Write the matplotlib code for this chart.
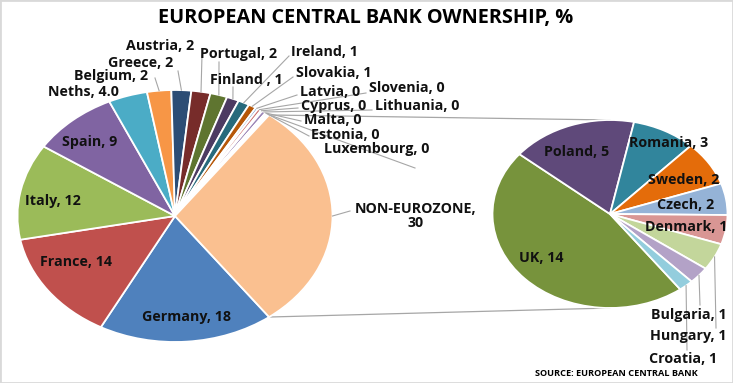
import numpy as np
import matplotlib.pyplot as plt
from matplotlib.patches import Rectangle

# ────────────────────────────────────────────────
# Data (ECB capital key, %)
# ────────────────────────────────────────────────
euro_names = ["Germany", "France", "Italy", "Spain", "Neths", "Belgium", "Greece",
              "Austria", "Portugal", "Finland", "Ireland", "Slovakia", "Latvia",
              "Slovenia", "Cyprus", "Lithuania", "Malta", "Estonia", "Luxembourg"]
euro_values = [17.99, 14.18, 12.31, 8.84, 4.00, 2.48, 2.03, 1.96, 1.74, 1.26, 1.16,
               0.77, 0.28, 0.35, 0.15, 0.41, 0.06, 0.19, 0.20]
euro_labels = ["Germany, 18", "France, 14", "Italy, 12", "Spain, 9", "Neths, 4.0",
               "Belgium, 2", "Greece, 2", "Austria, 2", "Portugal, 2", "Finland , 1",
               "Ireland, 1", "Slovakia, 1", "Latvia, 0", "Slovenia, 0", "Cyprus, 0",
               "Lithuania, 0", "Malta, 0", "Estonia, 0", "Luxembourg, 0"]

non_euro_names = ["UK", "Poland", "Romania", "Sweden", "Czech", "Denmark",
                  "Hungary", "Bulgaria", "Croatia"]
non_euro_values = [13.67, 5.12, 2.60, 2.27, 1.61, 1.49, 1.38, 0.86, 0.60]
non_euro_labels = ["UK, 14", "Poland, 5", "Romania, 3", "Sweden, 2", "Czech, 2",
                   "Denmark, 1", "Hungary, 1", "Bulgaria, 1", "Croatia, 1"]
other_label = "NON-EUROZONE,\n30"

euro_colors = ["#4F81BD", "#C0504D", "#9BBB59", "#8064A2", "#4BACC6", "#F79646",
               "#2C4D75", "#772C2A", "#5F7530", "#4D3B62", "#276A7C", "#B65708",
               "#729ACA", "#CD7371", "#AFC97A", "#9983B5", "#6FBDD1", "#F9AB6B",
               "#3A5E8C"]
other_color = "#FAC090"
non_euro_colors = ["#77933C", "#5F497A", "#31859C", "#E46C0A", "#95B3D7",
                   "#D99694", "#C3D69B", "#B3A2C7", "#93CDDD"]

# ────────────────────────────────────────────────
# Layout (pixel positions; image is stretched sideways by SX)
# ────────────────────────────────────────────────
W, H = 733, 383
SX = 1.25

# name -> (label x, label y, leader start or None)
label_pos = {
    "Germany": (186, 317, None), "France": (76, 262, None), "Italy": (53, 201, None),
    "Spain": (90, 142, None), "Neths": (83, 92, None),
    "Belgium": (111, 76, (155, 78)), "Greece": (141, 63, (178, 71)),
    "Austria": (160, 46, (202, 55)), "Portugal": (239, 54, (219, 62)),
    "Finland": (246, 80, (233, 87)), "Ireland": (324, 52, (289, 56)),
    "Slovakia": (334, 73, (293, 77)), "Latvia": (330, 92, (297, 95)),
    "Slovenia": (407, 88, (366, 93)), "Cyprus": (334, 106, (298, 108)),
    "Lithuania": (417, 106, (372, 110)), "Malta": (333, 120, (301, 121)),
    "Estonia": (345, 135, (309, 136)), "Luxembourg": (377, 149, (415, 168)),
    "UK": (541, 258, None), "Poland": (577, 152, None), "Romania": (669, 143, None),
    "Sweden": (684, 180, None), "Czech": (686, 205, None), "Denmark": (686, 227, None),
    "Hungary": (688, 336, (716, 328)), "Bulgaria": (689, 315, (700, 305)),
    "Croatia": (683, 359, (687, 350)),
}


def px(x, y):
    return x / SX, H - y


def rim(w):
    a = np.deg2rad((w.theta1 + w.theta2) / 2)
    return w.center[0] + w.r * np.cos(a), w.center[1] + w.r * np.sin(a)


FONT = "Open Sans"
TXT = "#111111"
LEAD = "#A6A6A6"
FS = 10.3

fig = plt.figure(figsize=(W / 100, H / 100), dpi=100)
ax = fig.add_axes([0, 0, 1, 1])

other = sum(non_euro_values)
main_vals = euro_values + [other]
start = -180 * other / sum(main_vals)
wp = dict(edgecolor="white", linewidth=1.3)

w1, _ = ax.pie(main_vals, colors=euro_colors + [other_color], center=px(175, 216),
               radius=126, startangle=start, counterclock=False, wedgeprops=wp)
w2, _ = ax.pie(non_euro_values, colors=non_euro_colors, center=px(610, 214),
               radius=94, startangle=start, counterclock=False, wedgeprops=wp)
ax.set_aspect("auto")
ax.set_xlim(0, W / SX)
ax.set_ylim(0, H)
ax.axis("off")

# connector lines between the "other" slice and the second pie
ow = w1[-1]
c2, r2 = w2[0].center, w2[0].r
for th, dy in [(ow.theta2, r2), (ow.theta1, -r2)]:
    a = np.deg2rad(th)
    x0 = ow.center[0] + ow.r * np.cos(a)
    y0 = ow.center[1] + ow.r * np.sin(a)
    ax.plot([x0, c2[0]], [y0, c2[1] + dy], color=LEAD, lw=0.9, zorder=0.5)

# labels + leaders
for wedges, names, labels in [(w1, euro_names, euro_labels),
                              (w2, non_euro_names, non_euro_labels)]:
    for w, name, lab in zip(wedges, names, labels):
        lx, ly, lead = label_pos[name]
        ax.text(*px(lx, ly), lab, ha="center", va="center", fontsize=FS,
                fontweight="bold", family=FONT, color=TXT, zorder=5)
        if lead is not None:
            ex, ey = rim(w)
            sx, sy = px(*lead)
            ax.plot([sx, ex], [sy, ey], color=LEAD, lw=0.8, zorder=3)

ax.text(*px(416, 216), other_label, ha="center", va="center", fontsize=FS,
        fontweight="bold", family=FONT, color=TXT, linespacing=1.05)
ex, ey = rim(ow)
ax.plot([ex, 350 / SX], [ey, H - 211], color=LEAD, lw=0.8)

ax.text(*px(366, 18), "EUROPEAN CENTRAL BANK OWNERSHIP, %", ha="center", va="center",
        fontsize=14.3, fontweight="bold", family=FONT, color="black")
ax.text(*px(616, 374), "SOURCE: EUROPEAN CENTRAL BANK", ha="center", va="center",
        fontsize=6.6, fontweight="bold", family=FONT, color="black")

fig.add_artist(Rectangle((0, 0), 1, 1, transform=fig.transFigure, fill=False,
                         edgecolor="#D9D9D9", lw=2))

fig.savefig("out.png", dpi=100)
